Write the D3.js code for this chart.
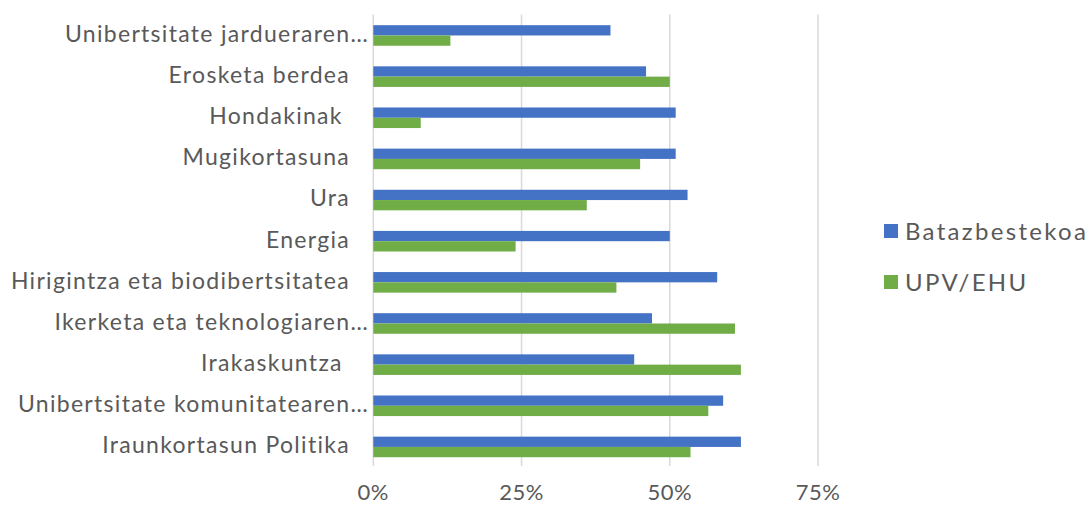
<!DOCTYPE html>
<html lang="eu">
<head>
<meta charset="UTF-8">
<title>Batazbestekoa vs UPV/EHU</title>
<script src="https://d3js.org/d3.v7.min.js"></script>
<style>
  body { margin: 0; background: #fff; }
  svg text { font-family: Lato, "Open Sans", sans-serif; fill: #595959; white-space: pre; }
  .grid line { stroke: #d9d9d9; stroke-width: 1.5; }
</style>
</head>
<body>
<svg width="1092" height="505"></svg>
<script>
    // categories top to bottom
    const categories = [
        "Unibertsitate jardueraren…",
        "Erosketa berdea",
        "Hondakinak ",
        "Mugikortasuna",
        "Ura",
        "Energia",
        "Hirigintza eta biodibertsitatea",
        "Ikerketa eta teknologiaren…",
        "Irakaskuntza ",
        "Unibertsitate komunitatearen…",
        "Iraunkortasun Politika"
    ];
    const seriesNames = ["Batazbestekoa", "UPV/EHU"];
    const batazbestekoa = [0.40, 0.46, 0.51, 0.51, 0.53, 0.50, 0.58, 0.47, 0.44, 0.59, 0.62];
    const upvEhu        = [0.13, 0.50, 0.08, 0.45, 0.36, 0.24, 0.41, 0.61, 0.62, 0.565, 0.535];
    const tickValues = [0, 0.25, 0.5, 0.75];
    const colors = ["#4472c4", "#70ad47"];

    const svg = d3.select("svg");

    const x = d3.scaleLinear().domain([0, 0.75]).range([373.3, 818]);
    const y = d3.scaleBand().domain(categories).range([14.9, 467.5])
        .paddingInner(0.5).paddingOuter(0.25);
    const ySub = d3.scaleBand().domain(seriesNames).range([0, y.bandwidth()]);

    // gridlines
    svg.append("g").attr("class", "grid")
        .selectAll("line")
        .data(tickValues)
        .join("line")
        .attr("x1", d => x(d)).attr("x2", d => x(d))
        .attr("y1", 14.5).attr("y2", 466);

    // bars
    const rows = categories.map((c, i) => ({ cat: c, values: [batazbestekoa[i], upvEhu[i]] }));
    const groups = svg.append("g")
        .selectAll("g")
        .data(rows)
        .join("g")
        .attr("transform", d => `translate(0,${y(d.cat)})`);

    groups.selectAll("rect")
        .data(d => d.values.map((v, j) => ({ name: seriesNames[j], v, j })))
        .join("rect")
        .attr("x", x(0))
        .attr("y", d => ySub(d.name))
        .attr("width", d => x(d.v) - x(0))
        .attr("height", ySub.bandwidth())
        .attr("fill", d => colors[d.j]);

    // category labels
    svg.append("g")
        .selectAll("text")
        .data(categories)
        .join("text")
        .attr("x", d => d.endsWith("…") ? 369 : 350)
        .attr("y", d => y(d) + y.bandwidth() / 2)
        .attr("dy", "0.28em")
        .attr("text-anchor", "end")
        .style("font-size", "23px")
        .style("letter-spacing", "1.3px")
        .text(d => d);

    // x axis tick labels
    svg.append("g")
        .selectAll("text")
        .data(tickValues)
        .join("text")
        .attr("x", d => x(d))
        .attr("y", 500)
        .attr("text-anchor", "middle")
        .style("font-size", "22px")
        .style("letter-spacing", "0.5px")
        .text(d => d3.format(".0%")(d));

    // legend
    const legend = svg.append("g")
        .selectAll("g")
        .data(seriesNames)
        .join("g")
        .attr("transform", (d, i) => `translate(884,${224 + i * 51})`);
    legend.append("rect")
        .attr("width", 14).attr("height", 14)
        .attr("fill", (d, i) => colors[i]);
    legend.append("text")
        .attr("x", 21)
        .attr("y", 7)
        .attr("dy", "0.36em")
        .style("font-size", "24px")
        .style("letter-spacing", "2.3px")
        .text(d => d);
</script>
</body>
</html>
